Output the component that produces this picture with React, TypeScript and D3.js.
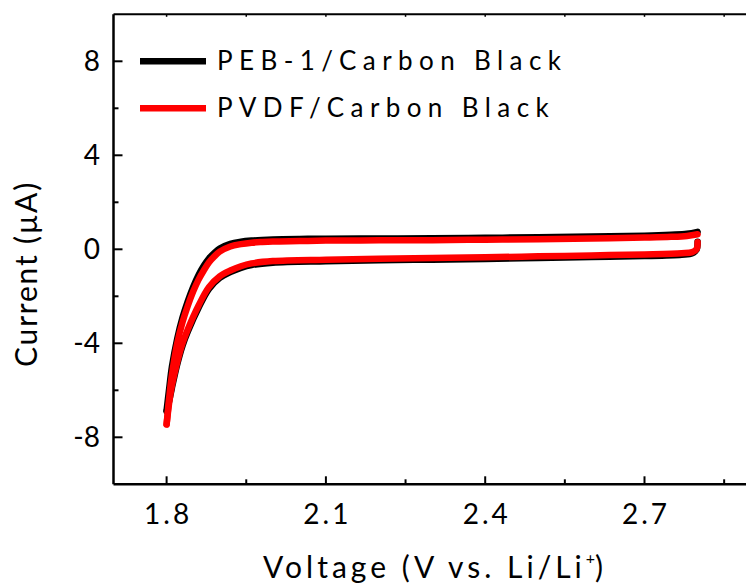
import React from "react";
import * as d3 from "d3";

// Red (PVDF/Carbon Black) anodic branch 1.8 -> 2.8 V
const redFwdV = [1.8, 1.805, 1.81, 1.82, 1.83, 1.84, 1.85, 1.86, 1.87, 1.88, 1.89, 1.9, 1.92, 1.94, 1.96, 1.98, 2.0, 2.05, 2.1, 2.2, 2.3, 2.4, 2.5, 2.6, 2.7, 2.75, 2.78, 2.8];
const redFwdI = [-7.45, -6.3, -5.35, -4.0, -3.1, -2.4, -1.8, -1.3, -0.9, -0.55, -0.3, -0.1, 0.12, 0.22, 0.28, 0.31, 0.33, 0.35, 0.37, 0.38, 0.39, 0.41, 0.43, 0.46, 0.5, 0.53, 0.57, 0.64];
// Red cathodic branch 2.8 -> 1.8 V
const redRevV = [2.8, 2.798, 2.79, 2.77, 2.7, 2.6, 2.5, 2.4, 2.3, 2.2, 2.1, 2.0, 1.96, 1.94, 1.92, 1.9, 1.88, 1.86, 1.84, 1.83, 1.82, 1.81, 1.805, 1.8];
const redRevI = [0.3, 0.0, -0.12, -0.17, -0.22, -0.26, -0.3, -0.34, -0.37, -0.4, -0.44, -0.5, -0.6, -0.72, -0.9, -1.15, -1.6, -2.4, -3.4, -4.0, -4.8, -5.8, -6.5, -7.45];

// Black (PEB-1/Carbon Black) anodic branch
const blackFwdV = [1.8, 1.805, 1.81, 1.82, 1.83, 1.84, 1.85, 1.86, 1.87, 1.88, 1.89, 1.9, 1.92, 1.94, 1.96, 1.98, 2.0, 2.05, 2.1, 2.2, 2.3, 2.4, 2.5, 2.6, 2.7, 2.75, 2.78, 2.8];
const blackFwdI = [-6.85, -5.9, -5.0, -3.8, -2.9, -2.2, -1.6, -1.1, -0.7, -0.38, -0.15, 0.03, 0.23, 0.32, 0.37, 0.4, 0.42, 0.44, 0.45, 0.46, 0.47, 0.49, 0.51, 0.54, 0.58, 0.62, 0.66, 0.74];
// Black cathodic branch
const blackRevV = [2.8, 2.798, 2.79, 2.77, 2.7, 2.6, 2.5, 2.4, 2.3, 2.2, 2.1, 2.0, 1.96, 1.94, 1.92, 1.9, 1.88, 1.86, 1.84, 1.83, 1.82, 1.81, 1.805, 1.8];
const blackRevI = [0.32, -0.02, -0.17, -0.23, -0.29, -0.33, -0.37, -0.41, -0.44, -0.47, -0.51, -0.57, -0.67, -0.79, -0.97, -1.22, -1.68, -2.5, -3.5, -4.1, -4.9, -5.9, -6.45, -6.9];

const seriesNames = ["PEB-1/Carbon Black", "PVDF/Carbon Black"];
const seriesColors = ["#000000", "#ff0000"];

const xMajorTicks = [1.8, 2.1, 2.4, 2.7];
const xMinorTicks = [1.95, 2.25, 2.55, 2.85];
const yMajorTicks = [-8, -4, 0, 4, 8];
const yMinorTicks = [-6, -2, 2, 6];

const xTitle = "Voltage (V vs. Li/Li";
const yTitle = "Current (\u00b5A)";

const W = 746;
const H = 588;
const FONT = "Lato, 'Open Sans', sans-serif";

export default function App() {
  const x = d3.scaleLinear().domain([1.7, 2.9]).range([113.5, 750.7]);
  const y = d3.scaleLinear().domain([-10, 10]).range([484.3, 14.3]);

  const line = d3
    .line<[number, number]>()
    .x((d) => x(d[0]))
    .y((d) => y(d[1]))
    .curve(d3.curveCatmullRom.alpha(0.5));

  const zip = (a: number[], b: number[]) => a.map((v, i) => [v, b[i]] as [number, number]);

  const black = [zip(blackFwdV, blackFwdI), zip(blackRevV, blackRevI)];
  const red = [zip(redFwdV, redFwdI), zip(redRevV, redRevI)];

  const x0 = x(1.7);
  const yTop = y(10);
  const yBot = y(-10);
  const allXTicks = [...xMajorTicks, ...xMinorTicks];

  return (
    <svg
      width={W}
      height={H}
      style={{ position: "absolute", left: 0, top: 0, background: "#fff" }}
      fontFamily={FONT}
    >
      <rect x={0} y={0} width={W} height={H} fill="#fff" />
      {/* curves */}
      {black.map((b, i) => (
        <path key={"b" + i} d={line(b) || ""} fill="none" stroke={seriesColors[0]} strokeWidth={6.5} strokeLinecap="round" strokeLinejoin="round" />
      ))}
      {red.map((b, i) => (
        <path key={"r" + i} d={line(b) || ""} fill="none" stroke={seriesColors[1]} strokeWidth={6.5} strokeLinecap="round" strokeLinejoin="round" />
      ))}

      {/* frame */}
      <line x1={x0} x2={W + 10} y1={yTop} y2={yTop} stroke="#000" strokeWidth={2} />
      <line x1={x0} x2={W + 10} y1={yBot} y2={yBot} stroke="#000" strokeWidth={2.5} />
      <line x1={x0} x2={x0} y1={yTop} y2={yBot} stroke="#000" strokeWidth={2.5} />

      {/* x ticks */}
      {xMajorTicks.map((t) => (
        <line key={"xM" + t} x1={x(t)} x2={x(t)} y1={yBot} y2={yBot - 8} stroke="#000" strokeWidth={2} />
      ))}
      {xMinorTicks.map((t) => (
        <line key={"xm" + t} x1={x(t)} x2={x(t)} y1={yBot} y2={yBot - 5} stroke="#000" strokeWidth={2} />
      ))}
      {allXTicks.map((t) => (
        <line key={"xt" + t} x1={x(t)} x2={x(t)} y1={yTop} y2={yTop + 2.5} stroke="#000" strokeWidth={1.5} />
      ))}
      {xMajorTicks.map((t) => (
        <text key={"xl" + t} x={x(t) + 1.5} y={524} textAnchor="middle" fontSize={28} letterSpacing={3}>
          {t.toFixed(1)}
        </text>
      ))}

      {/* y ticks */}
      {yMajorTicks.map((t) => (
        <line key={"yM" + t} x1={x0} x2={x0 + 9} y1={y(t)} y2={y(t)} stroke="#000" strokeWidth={2} />
      ))}
      {yMinorTicks.map((t) => (
        <line key={"ym" + t} x1={x0} x2={x0 + 5} y1={y(t)} y2={y(t)} stroke="#000" strokeWidth={2} />
      ))}
      {yMajorTicks.map((t) => (
        <text key={"yl" + t} x={100} y={y(t) + 10} textAnchor="end" fontSize={28}>
          {t}
        </text>
      ))}

      {/* axis titles */}
      <text x={263} y={578} fontSize={30} letterSpacing={4}>
        {xTitle}
        <tspan dy={-14} fontSize={16} letterSpacing={0}>+</tspan>
        <tspan dy={14} fontSize={30}>)</tspan>
      </text>
      <text transform="translate(37,274) rotate(-90)" textAnchor="middle" fontSize={30} letterSpacing={1.8}>
        {yTitle}
      </text>

      {/* legend */}
      {seriesNames.map((n, i) => (
        <g key={n}>
          <line x1={140} x2={206} y1={y(8 - 2 * i)} y2={y(8 - 2 * i)} stroke={seriesColors[i]} strokeWidth={6.5} />
          <text x={217} y={y(8 - 2 * i) + 9} fontSize={26} letterSpacing={6.4}>
            {n}
          </text>
        </g>
      ))}
    </svg>
  );
}
